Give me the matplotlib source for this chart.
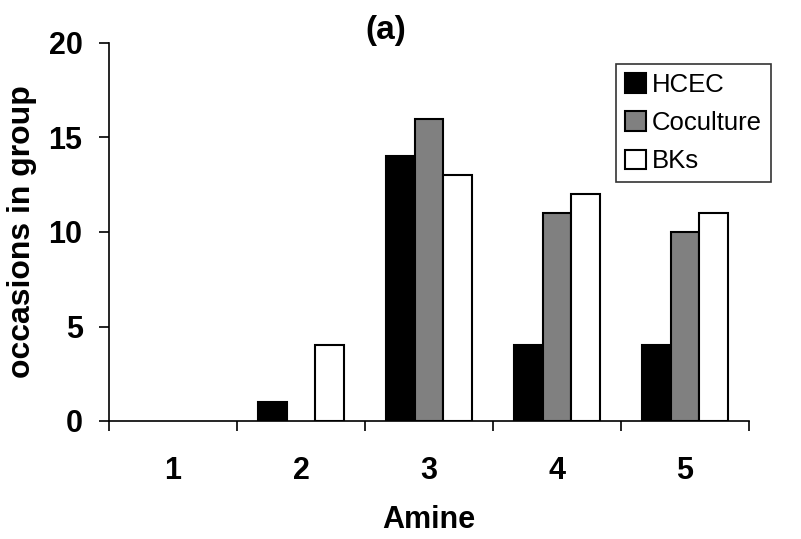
import matplotlib.pyplot as plt
from matplotlib.patches import Patch
import numpy as np

plt.rcParams['font.family'] = ['Liberation Sans', 'DejaVu Sans']

amines = ["1", "2", "3", "4", "5"]
hcec = [0, 1, 14, 4, 4]
coculture = [0, 0, 16, 11, 10]
bks = [0, 4, 13, 12, 11]

series = [("HCEC", hcec, 'black'),
          ("Coculture", coculture, '#808080'),
          ("BKs", bks, 'white')]

fig = plt.figure(figsize=(8.01, 5.39), dpi=100)
ax = fig.add_axes([109/801, 1 - 421/539, 640/801, 378/539])

x = np.arange(1, len(amines) + 1)
w = 0.224
handles = []
for i, (name, vals, col) in enumerate(series):
    # zero-height bars leave no outline on the baseline
    lw = [1.5 if v > 0 else 0 for v in vals]
    ax.bar(x + (i - 1) * w, vals, width=w, color=col, edgecolor='black',
           linewidth=lw)
    handles.append(Patch(facecolor=col, edgecolor='black', linewidth=1.5,
                         label=name))

ax.set_xlim(0.5, 5.5)
ax.set_ylim(0, 20)
ax.set_yticks([0, 5, 10, 15, 20])
ax.set_xticks(x)
ax.set_xticklabels(amines)
ax.set_xticks(np.arange(0.5, 6, 1), minor=True)
ax.tick_params(axis='x', which='major', length=0, pad=25)
ax.tick_params(axis='x', which='minor', length=7, direction='out', width=1.2)
ax.tick_params(axis='y', length=7, direction='out', width=1.2, pad=12)
for lab in ax.get_xticklabels() + ax.get_yticklabels():
    lab.set_fontsize(22)
    lab.set_fontweight('bold')

ax.spines['top'].set_visible(False)
ax.spines['right'].set_visible(False)
ax.spines['left'].set_linewidth(1.2)
ax.spines['bottom'].set_linewidth(1.2)

ax.set_xlabel("Amine", fontsize=22, fontweight='bold', labelpad=14)
ax.set_ylabel("occasions in group", fontsize=23, fontweight='bold', labelpad=8)
fig.text(386/801, 1 - 30/539, "(a)", fontsize=24, fontweight='bold',
         ha='center', va='center')

leg = fig.legend(handles=handles, loc='upper left',
                 bbox_to_anchor=(616/801, 1 - 64/539),
                 fontsize=18.5, frameon=True, fancybox=False, handlelength=0.8,
                 handleheight=0.8, handletextpad=0.25, borderpad=0.35,
                 labelspacing=0.55, borderaxespad=0)
leg.get_frame().set_edgecolor('black')
leg.get_frame().set_linewidth(1.2)

fig.savefig("out.png", dpi=100)
